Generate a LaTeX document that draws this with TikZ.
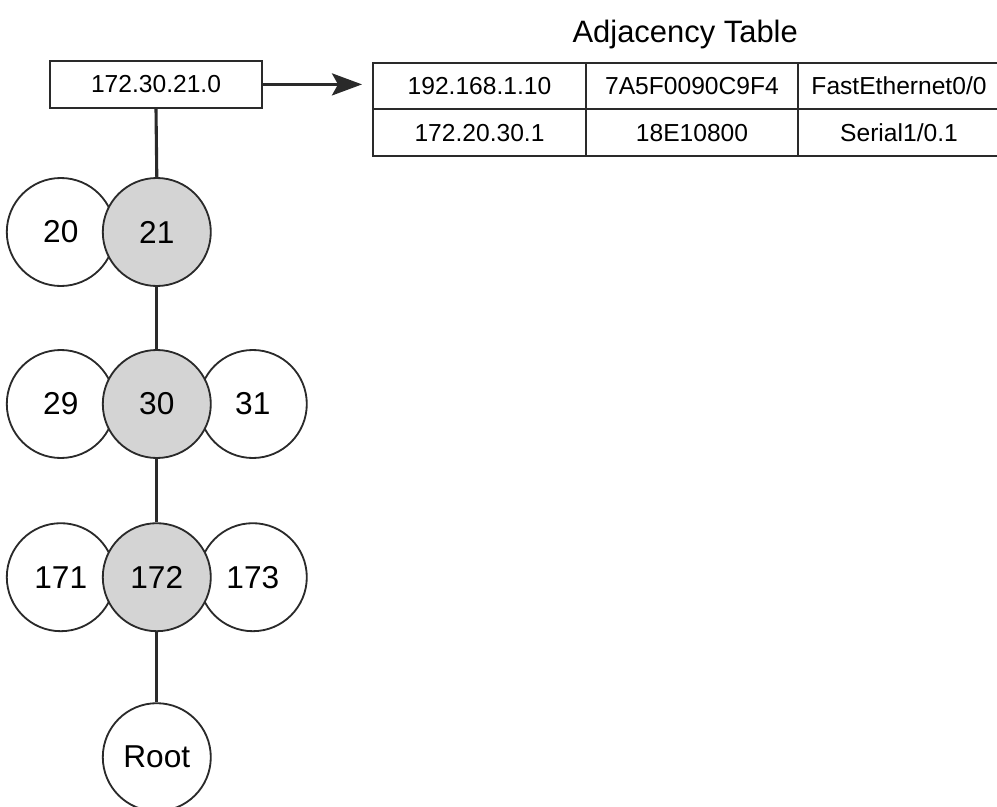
\documentclass[tikz,border=0pt]{standalone}
\usepackage{xcolor}
\usepackage{tikz}
\usepackage{fontspec}
\setmainfont{Liberation Sans}
\usetikzlibrary{arrows.meta}
\definecolor{ink}{HTML}{2A2A2A}
\definecolor{shade}{HTML}{D4D4D4}

\begin{document}
\begin{tikzpicture}[scale=1,every node/.style={text=black},
   octet/.style={draw=ink,circle,minimum size=2.7cm,inner sep=0pt,line width=1.3pt,fill=white,font=\fontsize{22.5}{26}\selectfont},
   onpath/.style={octet,fill=shade},
   cell/.style={draw=ink,line width=1.3pt,minimum height=1.17cm,inner sep=0pt,font=\fontsize{17.5}{21}\selectfont},
   link/.style={draw=ink,line width=2.2pt}]
\useasboundingbox (0,0) rectangle (24.925,-20.175);
\clip (0,0) rectangle (24.925,-20.175);
% prefix box
\node[cell,minimum width=5.3cm,minimum height=1.175cm] (pfx) at (3.9,-2.11) {172.30.21.0};
% tree of octets
\node[octet]  (o20)  at (1.52,-5.8)   {20};
\node[onpath] (o21)  at (3.92,-5.8)   {21};
\node[octet]  (o29)  at (1.52,-10.1)  {29};
\node[octet]  (o31)  at (6.32,-10.1)  {31};
\node[onpath] (o30)  at (3.92,-10.1)  {30};
\node[octet]  (o171) at (1.52,-14.43) {171};
\node[octet]  (o173) at (6.32,-14.43) {173};
\node[onpath] (o172) at (3.92,-14.43) {172};
\node[octet]  (root) at (3.92,-18.93) {Root};
% adjacency table
\node[font=\fontsize{22}{26}\selectfont] (ttl) at (17.13,-0.87) {Adjacency Table};
\node[cell,minimum width=5.325cm] (t11) at (11.9875,-2.15) {192.168.1.10};
\node[cell,minimum width=5.3cm]   (t12) at (17.3,-2.15)    {7A5F0090C9F4};
\node[cell,minimum width=5.05cm]  (t13) at (22.475,-2.15)  {FastEthernet0/0};
\node[cell,minimum width=5.325cm] (t21) at (11.9875,-3.32) {172.20.30.1};
\node[cell,minimum width=5.3cm]   (t22) at (17.3,-3.32)    {18E10800};
\node[cell,minimum width=5.05cm]  (t23) at (22.475,-3.32)  {Serial1/0.1};
% links
\coordinate (tip) at (9.05,-2.11);
\draw[link,-{Stealth[length=0.75cm,width=0.55cm,inset=0.15cm]}] (pfx.east) -- (tip);
\draw[link] (pfx.south) -- (o21.north);
\draw[link] (o21.south) -- (o30.north);
\draw[link] (o30.south) -- (o172.north);
\draw[link] (o172.south) -- (root.north);
\end{tikzpicture}
\end{document}
